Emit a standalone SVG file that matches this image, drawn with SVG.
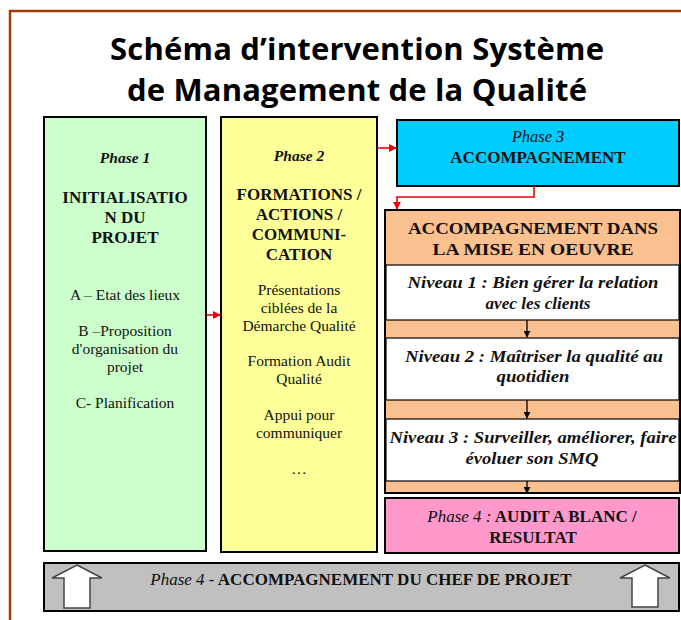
<svg xmlns="http://www.w3.org/2000/svg" width="681" height="620" viewBox="0 0 681 620">
<defs>
<style>
.box{stroke:#000;stroke-width:2}
.wb{fill:#fff;stroke:#000;stroke-width:1.2}
.t{font-family:"Liberation Serif","Times New Roman",serif;fill:#111;text-anchor:middle}
.b{font-weight:bold}
.i{font-style:italic}
.cap{font-size:17px}
.reg{font-size:15.5px}
.title{font-family:"Open Sans","Liberation Sans",sans-serif;font-weight:bold;font-size:31px;fill:#000;text-anchor:middle}
.red{stroke:#ee0000;stroke-width:1.6;fill:none}
.blk{stroke:#000;stroke-width:1.3;fill:none}
.big{fill:#fff;stroke:#444;stroke-width:1.5}
</style>
<marker id="ar" viewBox="0 0 10 10" refX="9" refY="5" markerWidth="8" markerHeight="8" markerUnits="userSpaceOnUse" orient="auto"><path d="M0,0 L10,5 L0,10 z" fill="#ee0000"/></marker>
<marker id="ab" viewBox="0 0 10 10" refX="9" refY="5" markerWidth="7" markerHeight="7" markerUnits="userSpaceOnUse" orient="auto"><path d="M0,0 L10,5 L0,10 z" fill="#000"/></marker>
</defs>
<rect width="681" height="620" fill="#fff"/>
<path d="M10,620 V11 H681" fill="none" stroke="#a33a0a" stroke-width="2.5"/>
<g id="title">
<text class="title" x="357" y="60" textLength="494">Schéma d’intervention Système</text>
<text class="title" x="357" y="101" textLength="460">de Management de la Qualité</text>
</g>
<g id="phase1">
<rect class="box" x="44" y="117" width="162" height="434" fill="#ccffcc"/>
<text class="t b i" x="125" y="163" font-size="15.5">Phase 1</text>
<text class="t b cap" x="125" y="203">INITIALISATIO</text>
<text class="t b cap" x="125" y="223">N DU</text>
<text class="t b cap" x="125" y="243">PROJET</text>
<text class="t reg" x="125" y="300">A – Etat des lieux</text>
<text class="t reg" x="125" y="336">B –Proposition</text>
<text class="t reg" x="125" y="354">d'organisation du</text>
<text class="t reg" x="125" y="372">projet</text>
<text class="t reg" x="125" y="408">C- Planification</text>
</g>
<g id="phase2">
<rect class="box" x="221" y="117" width="156" height="435" fill="#ffff99"/>
<text class="t b i" x="299" y="161" font-size="15.5">Phase 2</text>
<text class="t b cap" x="299" y="200">FORMATIONS /</text>
<text class="t b cap" x="299" y="220">ACTIONS /</text>
<text class="t b cap" x="299" y="240">COMMUNI-</text>
<text class="t b cap" x="299" y="260">CATION</text>
<text class="t reg" x="299" y="295">Présentations</text>
<text class="t reg" x="299" y="313">ciblées de la</text>
<text class="t reg" x="299" y="331">Démarche Qualité</text>
<text class="t reg" x="299" y="366">Formation Audit</text>
<text class="t reg" x="299" y="384">Qualité</text>
<text class="t reg" x="299" y="420">Appui pour</text>
<text class="t reg" x="299" y="438">communiquer</text>
<text class="t reg" x="299" y="474">…</text>
</g>
<g id="phase3">
<rect class="box" x="397" y="120" width="282" height="66" fill="#00ccff"/>
<text class="t i" x="538" y="142" font-size="16.5">Phase 3</text>
<text class="t b cap" x="538" y="163">ACCOMPAGNEMENT</text>
</g>
<g id="miseenoeuvre">
<rect class="box" x="385" y="210" width="295" height="283" fill="#fac090"/>
<text class="t b cap" x="533" y="234" textLength="250" lengthAdjust="spacingAndGlyphs">ACCOMPAGNEMENT DANS</text>
<text class="t b cap" x="533" y="255" textLength="201" lengthAdjust="spacingAndGlyphs">LA MISE EN OEUVRE</text>
</g>
<g id="niveau1">
<rect class="wb" x="386" y="265" width="293" height="55"/>
<text class="t b i cap" x="533" y="288" textLength="251" lengthAdjust="spacingAndGlyphs">Niveau 1 : Bien gérer la relation</text>
<text class="t b i cap" x="538" y="309" textLength="105" lengthAdjust="spacingAndGlyphs">avec les clients</text>
</g>
<g id="niveau2">
<rect class="wb" x="386" y="338" width="293" height="62"/>
<text class="t b i cap" x="534" y="362" textLength="258" lengthAdjust="spacingAndGlyphs">Niveau 2 : Maîtriser la qualité au</text>
<text class="t b i cap" x="533" y="382" textLength="73" lengthAdjust="spacingAndGlyphs">quotidien</text>
</g>
<g id="niveau3">
<rect class="wb" x="386" y="419" width="293" height="62"/>
<text class="t b i cap" x="533" y="443" textLength="287" lengthAdjust="spacingAndGlyphs">Niveau 3 : Surveiller, améliorer, faire</text>
<text class="t b i cap" x="532" y="464" textLength="133" lengthAdjust="spacingAndGlyphs">évoluer son SMQ</text>
</g>
<g id="phase4audit">
<rect class="box" x="385" y="498" width="294" height="55" fill="#ff99cc"/>
<text class="t cap" x="532" y="522"><tspan class="i">Phase 4 :</tspan><tspan class="b"> AUDIT A BLANC /</tspan></text>
<text class="t b cap" x="533" y="543">RESULTAT</text>
</g>
<g id="phase4chef">
<rect class="box" x="44" y="563" width="635" height="48" fill="#c0c0c0"/>
<polygon class="big" points="77,565 102,578 90,578 90,608 64,608 64,578 52,578"/>
<polygon class="big" points="645,565 670,578 658,578 658,607 632,607 632,578 620,578"/>
<text class="t cap" x="361" y="585"><tspan class="i">Phase 4 -</tspan><tspan class="b"> ACCOMPAGNEMENT DU CHEF DE PROJET</tspan></text>
</g>
<g id="connectors">
<path class="red" d="M206,315 H220" marker-end="url(#ar)"/>
<path class="red" d="M377,148 H396" marker-end="url(#ar)"/>
<path class="red" d="M534,186 V197 H397 V209" marker-end="url(#ar)"/>
<path class="blk" d="M527,320 V337" marker-end="url(#ab)"/>
<path class="blk" d="M527,400 V418" marker-end="url(#ab)"/>
<path class="blk" d="M527,481 V493" marker-end="url(#ab)"/>
</g>
</svg>
